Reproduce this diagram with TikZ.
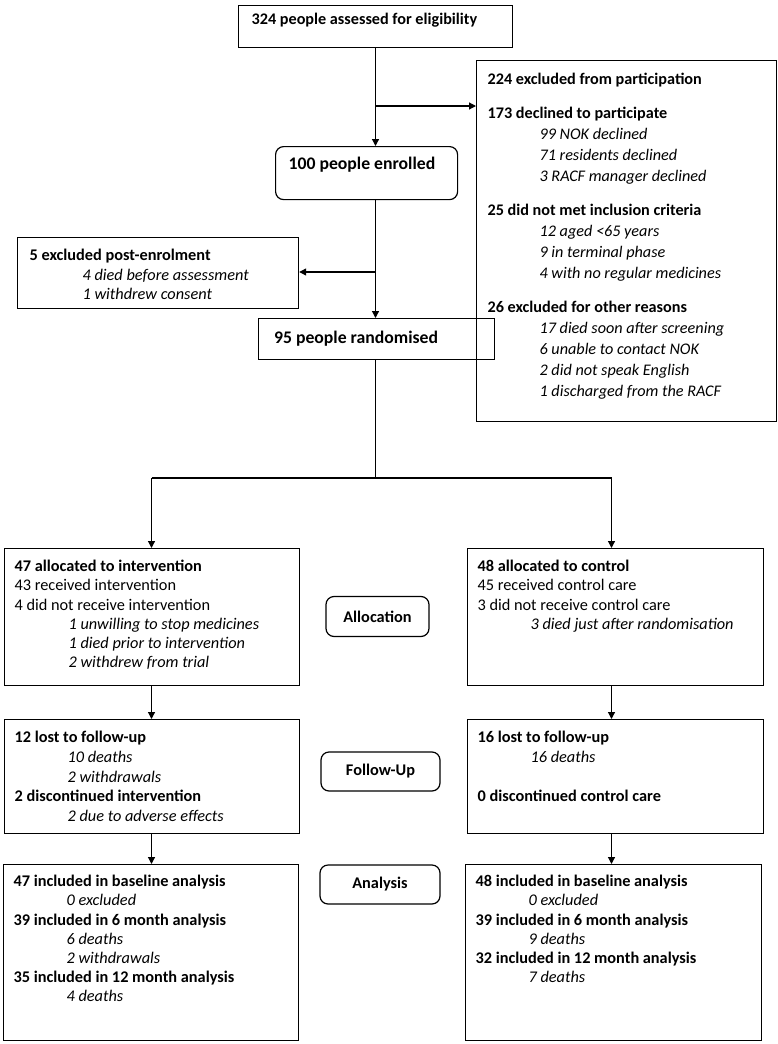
\documentclass[tikz,border=0pt]{standalone}
\usepackage{fontspec}
\setmainfont{Carlito}
\usetikzlibrary{arrows.meta}
\newcommand{\tb}[4]{\parbox[b][#2pt][t]{#1pt}{\raggedright\rule{0pt}{#3pt}#4}}
\newcommand{\indt}[2]{\hspace*{#1pt}\textit{#2}}
\tikzset{
  box/.style={draw, line width=1.2pt, anchor=north west, inner xsep=10pt, inner ysep=0pt, font=\fontsize{16.2}{21}\selectfont},
  lbox/.style={box, font=\fontsize{16.3}{19.2}\selectfont},
  rbox/.style={draw, line width=1.2pt, rounded corners=8pt, inner sep=0pt, font=\fontsize{16.3}{19}\selectfont\bfseries},
  ln/.style={line width=1.2pt},
  arr/.style={line width=1.2pt, -{Triangle[length=7pt,width=7pt]}}
}
\begin{document}
\begin{tikzpicture}[x=1pt,y=-1pt]
\useasboundingbox[fill=white] (0,0) rectangle (777,1044);
\node[box, inner xsep=13pt] (A) at (238,5) {\tb{248}{42}{19}{\textbf{324 people assessed for eligibility}}};
\node[box, inner xsep=11pt] (B) at (476,60) {\tb{278}{361}{24}{\textbf{224 excluded from participation}\\[13pt]
\textbf{173 declined to participate}\\
\indt{52}{99 NOK declined}\\
\indt{52}{71 residents declined}\\
\indt{52}{3 RACF manager declined}\\[13pt]
\textbf{25 did not met inclusion criteria}\\
\indt{52}{12 aged <65 years}\\
\indt{52}{9 in terminal phase}\\
\indt{52}{4 with no regular medicines}\\[13pt]
\textbf{26 excluded for other reasons}\\
\indt{52}{17 died soon after screening}\\
\indt{52}{6 unable to contact NOK}\\
\indt{52}{2 did not speak English}\\
\indt{52}{1 discharged from the RACF}}};
\node[box, rounded corners=8pt, inner xsep=13pt, font=\fontsize{17.7}{21}\selectfont] (C) at (275,146) {\tb{156}{53}{23}{\textbf{100 people enrolled}}};
\node[box, inner xsep=12pt, font=\fontsize{16.3}{19.5}\selectfont] (D) at (17,237) {\tb{257}{71}{23}{\textbf{5 excluded post-enrolment}\\
\indt{53}{4 died before assessment}\\
\indt{53}{1 withdrew consent}}};
\node[box, inner xsep=16pt, font=\fontsize{17.7}{21}\selectfont] (E) at (257.5,318) {\tb{204}{41}{25}{\textbf{95 people randomised}}};
\node[lbox] (F) at (4,548) {\tb{275}{137}{23}{\textbf{47 allocated to intervention}\\
43 received intervention\\
4 did not receive intervention\\
\indt{54}{1 unwilling to stop medicines}\\
\indt{54}{1 died prior to intervention}\\
\indt{54}{2 withdrew from trial}}};
\node[lbox] (G) at (467,548) {\tb{276}{137}{23}{\textbf{48 allocated to control}\\
45 received control care\\
3 did not receive control care\\
\indt{53}{3 died just after randomisation}}};
\node[rbox, minimum width=103pt, minimum height=40pt] (H) at (377.5,616.5) {Allocation};
\node[lbox, font=\fontsize{16.3}{19.7}\selectfont] (I) at (4,719) {\tb{275}{114}{23}{\textbf{12 lost to follow-up}\\
\indt{53}{10 deaths}\\
\indt{53}{2 withdrawals}\\
\textbf{2 discontinued intervention}\\
\indt{53}{2 due to adverse effects}}};
\node[rbox, minimum width=119pt, minimum height=39pt] (J) at (380.5,771.5) {Follow-Up};
\node[lbox, font=\fontsize{16.3}{19.7}\selectfont] (K) at (467,719) {\tb{276}{114}{23}{\textbf{16 lost to follow-up}\\
\indt{53}{16 deaths}\\
\mbox{}\\
\textbf{0 discontinued control care}}};
\node[lbox] (L) at (3,864) {\tb{275}{176}{22}{\textbf{47 included in baseline analysis}\\
\indt{53}{0 excluded}\\
\textbf{39 included in 6 month analysis}\\
\indt{53}{6 deaths}\\
\indt{53}{2 withdrawals}\\
\textbf{35 included in 12 month analysis}\\
\indt{53}{4 deaths}}};
\node[rbox, minimum width=120pt, minimum height=39pt] (M) at (380,884.5) {Analysis};
\node[lbox] (N) at (465,864) {\tb{276}{176}{22}{\textbf{48 included in baseline analysis}\\
\indt{53}{0 excluded}\\
\textbf{39 included in 6 month analysis}\\
\indt{53}{9 deaths}\\
\textbf{32 included in 12 month analysis}\\
\indt{53}{7 deaths}}};
% connectors
\coordinate (j1) at (375.5,106);
\coordinate (j2) at (375.5,272);
\coordinate (j3) at (375.5,478);
\coordinate (jl) at (151.5,478);
\coordinate (jr) at (611.5,478);
\draw[arr] (j1 |- A.south) -- (j1 |- C.north);
\draw[arr] (j1) -- (j1 -| B.west);
\draw[arr] (j2 |- C.south) -- (j2 |- E.north);
\draw[arr] (j2) -- (j2 -| D.east);
\draw[ln] (j3 |- E.south) -- (j3);
\draw[ln] (jl) -- (jr);
\draw[arr] (jl) -- (jl |- F.north);
\draw[arr] (jr) -- (jr |- G.north);
\draw[arr] (jl |- F.south) -- (jl |- I.north);
\draw[arr] (jr |- G.south) -- (jr |- K.north);
\draw[arr] (jl |- I.south) -- (jl |- L.north);
\draw[arr] (jr |- K.south) -- (jr |- N.north);
\end{tikzpicture}
\end{document}
